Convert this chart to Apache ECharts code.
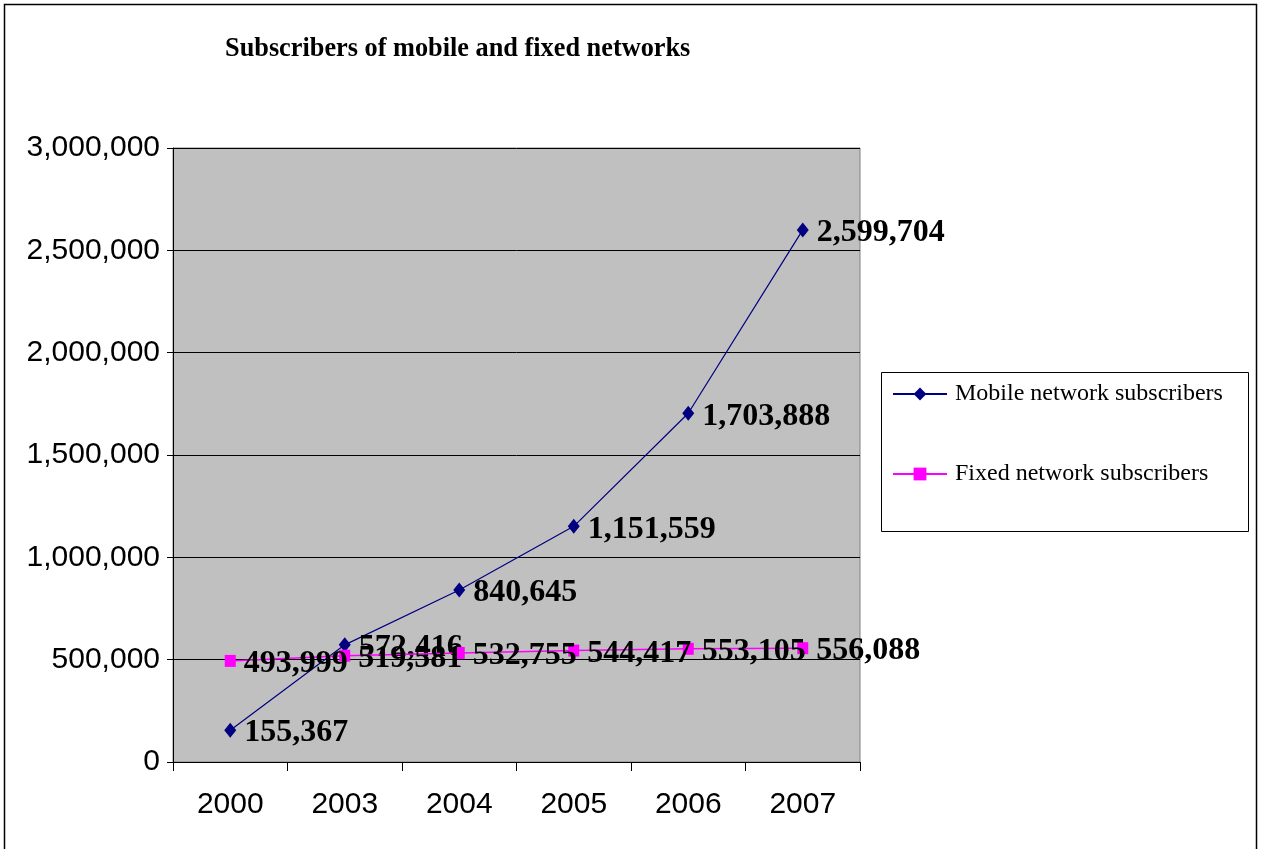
<!DOCTYPE html>
<html>
<head>
<meta charset="utf-8">
<script src="https://cdn.jsdelivr.net/npm/echarts@6/dist/echarts.min.js"></script>
<style>
  html, body { margin: 0; padding: 0; background: #fff; }
  #chart { width: 1263px; height: 849px; }
</style>
</head>
<body>
<div id="chart"></div>
<script>
// Subscribers per year
const years = ['2000', '2003', '2004', '2005', '2006', '2007'];
const mobileSubscribers = [155367, 572416, 840645, 1151559, 1703888, 2599704];
const fixedSubscribers = [493999, 519581, 532755, 544417, 553105, 556088];
const seriesNames = ['Mobile network subscribers', 'Fixed network subscribers'];
const chartTitle = 'Subscribers of mobile and fixed networks';

const fmt = v => Number(v).toLocaleString('en-US');

const chart = echarts.init(document.getElementById('chart'), null, { renderer: 'canvas' });

const labelStyle = {
  show: true,
  position: 'right',
  distance: 8,
  offset: [0, 3],
  fontFamily: 'Liberation Serif',
  fontWeight: 'bold',
  fontSize: 32,
  color: '#000',
  formatter: p => fmt(p.value)
};

chart.setOption({
  animation: false,
  backgroundColor: '#fff',
  title: {
    text: chartTitle,
    left: 220,
    top: 31,
    textStyle: { fontFamily: 'Liberation Serif', fontWeight: 'bold', fontSize: 26.3, color: '#000' }
  },
  graphic: [
    // outer frame
    { type: 'rect', shape: { x: 4.5, y: 4.5, width: 1252, height: 860 }, style: { fill: 'none', stroke: '#000', lineWidth: 1.5 }, silent: true },
    // legend frame
    { type: 'rect', shape: { x: 881.5, y: 372.5, width: 367, height: 159 }, style: { fill: '#fff', stroke: '#000', lineWidth: 1 }, silent: true, z: -1 }
  ],
  legend: {
    orient: 'vertical',
    left: 887,
    top: 377,
    itemGap: 56,
    itemWidth: 54,
    itemHeight: 16,
    textStyle: { fontFamily: 'Liberation Serif', fontSize: 24, color: '#000', padding: [0, 0, 0, 3] },
    data: seriesNames
  },
  grid: {
    left: 173,
    right: 403,
    top: 148,
    bottom: 87,
    show: true,
    backgroundColor: '#c0c0c0',
    borderColor: '#808080',
    borderWidth: 1
  },
  xAxis: {
    type: 'category',
    data: years,
    boundaryGap: true,
    axisLine: { show: true, lineStyle: { color: '#000', width: 1 } },
    axisTick: { show: true, length: 9, inside: false, lineStyle: { color: '#000' } },
    axisLabel: { margin: 28, fontFamily: 'Liberation Sans', fontSize: 30, color: '#000' },
    splitLine: { show: false }
  },
  yAxis: {
    type: 'value',
    min: 0,
    max: 3000000,
    interval: 500000,
    axisLine: { show: true, lineStyle: { color: '#000', width: 1 } },
    axisTick: { show: true, length: 6, lineStyle: { color: '#000' } },
    axisLabel: { margin: 13, fontFamily: 'Liberation Sans', fontSize: 30, color: '#000', formatter: v => fmt(v) },
    splitLine: { show: true, lineStyle: { color: '#000', width: 1 } }
  },
  series: [
    {
      name: seriesNames[0],
      type: 'line',
      data: mobileSubscribers,
      symbol: 'diamond',
      symbolSize: [12, 15],
      itemStyle: { color: '#000080' },
      lineStyle: { color: '#000080', width: 1.2 },
      label: labelStyle,
      z: 3
    },
    {
      name: seriesNames[1],
      type: 'line',
      data: fixedSubscribers,
      symbol: 'rect',
      symbolSize: [11, 12],
      itemStyle: { color: '#ff00ff' },
      lineStyle: { color: '#ff00ff', width: 1.5 },
      label: labelStyle,
      z: 4
    }
  ]
});
</script>
</body>
</html>
